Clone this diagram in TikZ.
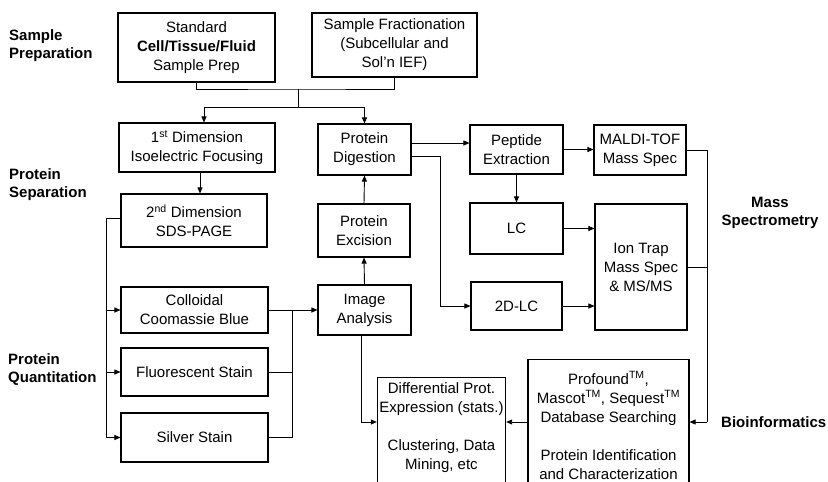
\documentclass[tikz,border=0pt]{standalone}
\usepackage{fontspec}
\setmainfont{Liberation Sans}
\usetikzlibrary{arrows.meta}

\begin{document}
\begin{tikzpicture}[x=1pt, y=-1pt,
    blk/.style={draw, line width=1.1pt, align=center, inner sep=2pt,
        font=\fontsize{15}{19}\selectfont},
    lbl/.style={align=left, inner sep=0pt,
        font=\fontsize{15}{18}\selectfont\bfseries},
    flow/.style={line width=0.9pt},
    arr/.style={flow, -{Triangle[length=6pt, width=5pt]}}]

        \clip (0,0) rectangle (828,482);
        \fill[white] (0,0) rectangle (828,482);

        %% ── Etapes (boites) ────────────────────────────────────────────────
        \node[blk, minimum width=157pt, minimum height=69pt] (std) at (196.5,47.5)
            {Standard\\\textbf{Cell/Tissue/Fluid}\\Sample Prep};
        \node[blk, minimum width=165pt, minimum height=64pt] (frac) at (394.5,45)
            {Sample Fractionation\\(Subcellular and\\Sol'n IEF)};
        \node[blk, minimum width=156pt, minimum height=49pt] (dim1) at (197,147.5)
            {1\textsuperscript{st} Dimension\\Isoelectric Focusing};
        \node[blk, minimum width=93pt, minimum height=51pt] (dig) at (364.5,149.5)
            {Protein\\Digestion};
        \node[blk, minimum width=93pt, minimum height=49pt] (pep) at (516.5,149.5)
            {Peptide\\Extraction};
        \node[blk, minimum width=92pt, minimum height=50pt] (maldi) at (640,150)
            {MALDI-TOF\\Mass Spec};
        \node[blk, minimum width=146pt, minimum height=53pt] (dim2) at (194,220.5)
            {2\textsuperscript{nd} Dimension\\SDS-PAGE};
        \node[blk, minimum width=92pt, minimum height=53pt] (exc) at (364,230.5)
            {Protein\\Excision};
        \node[blk, minimum width=93pt, minimum height=51pt] (lc) at (516.5,228.5)
            {LC};
        \node[blk, minimum width=92pt, minimum height=126pt] (ion) at (641,267)
            {Ion Trap\\Mass Spec\\\& MS/MS};
        \node[blk, minimum width=147pt, minimum height=46pt] (col) at (194.5,310)
            {Colloidal\\Coomassie Blue};
        \node[blk, minimum width=93pt, minimum height=50pt] (img) at (364.5,310)
            {Image\\Analysis};
        \node[blk, minimum width=91pt, minimum height=48pt] (lc2) at (516.5,306)
            {2D-LC};
        \node[blk, minimum width=147pt, minimum height=48pt] (flu) at (194.5,372)
            {Fluorescent Stain};
        \node[blk, minimum width=147pt, minimum height=49pt] (sil) at (194.5,437.5)
            {Silver Stain};
        \node[blk, anchor=north, minimum width=127pt, inner ysep=5pt,
            text depth=110pt] (diff) at (441.5,377)
            {Differential Prot.\\Expression (stats.)\\[19pt]Clustering, Data\\Mining, etc};
        \node[blk, anchor=north, minimum width=161pt, inner ysep=12pt,
            text depth=110pt] (bio) at (608.5,359)
            {Profound\textsuperscript{TM},\\Mascot\textsuperscript{TM}, Sequest\textsuperscript{TM}\\Database Searching\\[19pt]Protein Identification\\and Characterization};

        %% ── Intitules des phases ───────────────────────────────────────────
        \node[lbl, anchor=west] (lprep) at (9,46) {Sample\\Preparation};
        \node[lbl, anchor=west] (lsep) at (9,185) {Protein\\Separation};
        \node[lbl, anchor=west] (lquant) at (8,370) {Protein\\Quantitation};
        \node[lbl, align=center] (lmass) at (770,213) {Mass\\Spectrometry};
        \node[lbl, anchor=west] (lbio) at (721,422) {Bioinformatics};

        %% ── Preparation -> separation ──────────────────────────────────────
        \coordinate (j1) at (298,89);
        \coordinate (j2) at (298,107);
        \draw[flow] (std.south) |- (j1) -| (frac.south);
        \draw[flow] (j1) -- (j2);
        \draw[arr] (j2) -| ([xshift=7pt]dim1.north);
        \draw[arr] (j2) -| (dig.north);
        \draw[arr] ([xshift=3pt]dim1.south) -- ([xshift=3pt]dim1.south |- dim2.north);

        %% ── Coloration et analyse d'image ──────────────────────────────────
        \coordinate (q1) at (106,437.5);
        \coordinate (r1) at (292,310);
        \draw[arr] ([yshift=2.5pt]dim2.west) -| (q1) -- (sil.west);
        \draw[arr] (col.west -| q1) -- (col.west);
        \draw[arr] (flu.west -| q1) -- (flu.west);
        \draw[arr] (col.east) -- (img.west);
        \draw[flow] (flu.east) -- (flu.east -| r1);
        \draw[flow] (sil.east) -| (r1);
        \draw[arr] (img.north) -- (exc.south);
        \draw[arr] (exc.north) -- (dig.south);

        %% ── Digestion et spectrometrie de masse ────────────────────────────
        \coordinate (k1) at (440,306);
        \draw[arr] ([yshift=6.5pt]dig.east) -- ([yshift=6.5pt]dig.east -| pep.west);
        \draw[arr] ([yshift=-6.5pt]dig.east) -| (k1) -- (lc2.west);
        \draw[arr] (pep.east) -- (pep.east -| maldi.west);
        \draw[arr] (pep.south) -- (lc.north);
        \draw[arr] (lc.east) -- (lc.east -| ion.west);
        \draw[arr] (lc2.east) -- (lc2.east -| ion.west);

        %% ── Bioinformatique ────────────────────────────────────────────────
        \coordinate (m1) at (707,422);
        \draw[flow] (maldi.east) -| (m1);
        \draw[flow] (ion.east) -- (ion.east -| m1);
        \draw[arr] (m1) -- (m1 -| bio.east);
        \draw[arr] (m1 -| bio.west) -- (m1 -| diff.east);
        \draw[arr] ([xshift=-3.5pt]img.south) |- (m1 -| diff.west);

    \end{tikzpicture}
\end{document}
